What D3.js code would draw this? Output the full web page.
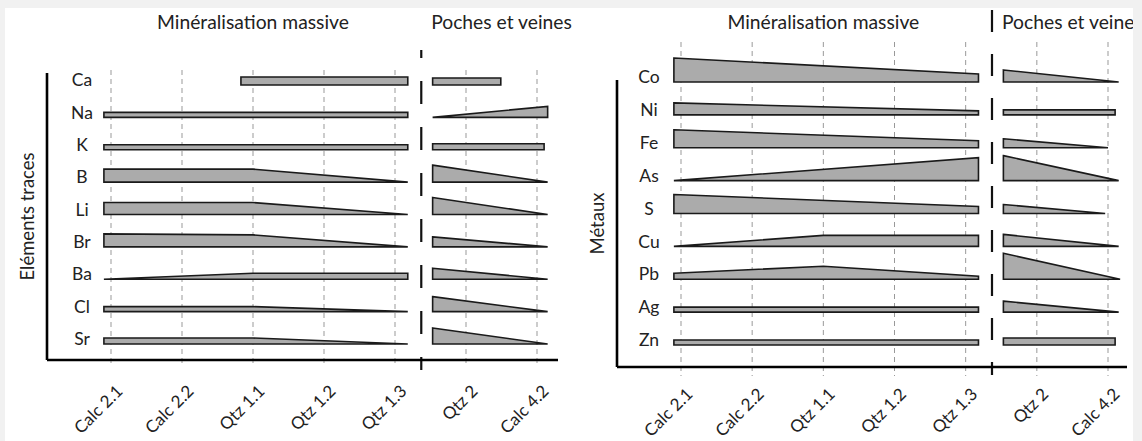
<!DOCTYPE html>
<html>
<head>
<meta charset="utf-8">
<script src="https://cdn.jsdelivr.net/npm/d3@7"></script>
<style>
  body { margin: 0; background: #f1f1f1; }
  svg { display: block; font-family: Lato, "Open Sans", sans-serif; }
</style>
</head>
<body>
<div id="chart"></div>
<script>
// Stages (x axis) and section titles
const stages = ["Calc 2.1", "Calc 2.2", "Qtz 1.1", "Qtz 1.2", "Qtz 1.3", "Qtz 2", "Calc 4.2"];
const sections = ["Minéralisation massive", "Poches et veines"];

// Each shape: [stage position, relative thickness] pairs
const traceElements = ["Ca", "Na", "K", "B", "Li", "Br", "Ba", "Cl", "Sr"];
const traceMassive = [
  [[1.83, 8], [4.18, 8]],
  [[-0.1, 5], [4.18, 5]],
  [[-0.1, 5], [4.18, 5]],
  [[-0.1, 13], [2, 13], [4.18, 0]],
  [[-0.1, 12], [2, 12], [4.18, 0]],
  [[-0.1, 13], [2, 12], [4.18, 0]],
  [[-0.1, 0], [2, 6], [4.18, 6]],
  [[-0.1, 5], [2, 5], [4.18, 0]],
  [[-0.1, 6], [2, 6], [4.18, 0]]
];
const traceVeins = [
  [[4.53, 7], [5.49, 7]],
  [[4.53, 0], [6.15, 11]],
  [[4.53, 6], [6.1, 6]],
  [[4.53, 17], [6.15, 0]],
  [[4.53, 17], [6.15, 0]],
  [[4.53, 10], [6.15, 0]],
  [[4.53, 11], [6.15, 0]],
  [[4.53, 15], [6.15, 0]],
  [[4.53, 16], [6.15, 0]]
];

const metals = ["Co", "Ni", "Fe", "As", "S", "Cu", "Pb", "Ag", "Zn"];
const metalMassive = [
  [[-0.1, 24], [4.18, 8]],
  [[-0.1, 12], [4.18, 4]],
  [[-0.1, 18], [4.18, 7]],
  [[-0.1, 0], [4.18, 23]],
  [[-0.1, 19], [4.18, 7]],
  [[-0.1, 0], [2, 11], [4.18, 11]],
  [[-0.1, 6], [2, 13], [4.18, 3]],
  [[-0.1, 5], [4.18, 5]],
  [[-0.1, 5], [4.18, 5]]
];
const metalVeins = [
  [[4.53, 12], [6.15, 0]],
  [[4.53, 5], [6.1, 5]],
  [[4.53, 9], [6.0, 0]],
  [[4.53, 25], [6.15, 0]],
  [[4.53, 9], [5.96, 0]],
  [[4.53, 12], [6.15, 0]],
  [[4.53, 26], [6.17, 0]],
  [[4.53, 11], [6.15, 0]],
  [[4.53, 7], [6.1, 7]]
];

const width = 1142, height = 441;

const svg = d3.select('#chart').append('svg')
  .attr('width', width)
  .attr('height', height);

// white card, everything clipped to it
svg.append('clipPath').attr('id', 'card')
  .append('rect').attr('x', 5).attr('y', 8).attr('width', 1128).attr('height', 440);
svg.append('rect').attr('x', 5).attr('y', 8).attr('width', 1128).attr('height', 440).attr('fill', '#fff');

const root = svg.append('g').attr('clip-path', 'url(#card)');

// thickness scale (relative units -> px)
const thick = d3.scaleLinear().domain([0, 10]).range([0, 10]);

function panel(opt) {
  const g = root.append('g');

  const x = d3.scaleLinear().domain([0, stages.length - 1]).range(opt.xRange);
  const y = d3.scalePoint().domain(opt.names).range(opt.yRange);

  // dashed stage lines
  g.selectAll('line.grid').data(stages).join('line')
    .attr('class', 'grid')
    .attr('x1', (d, i) => x(i)).attr('x2', (d, i) => x(i))
    .attr('y1', opt.gridTop).attr('y2', opt.gridBottom)
    .attr('stroke', '#999')
    .attr('stroke-width', 1)
    .attr('stroke-dasharray', '5,4');

  // section separator
  const sx = x(4.37);
  g.append('line')
    .attr('x1', sx).attr('x2', sx)
    .attr('y1', opt.axisBottom + opt.sepBelow).attr('y2', opt.sepTop)
    .attr('stroke', '#111')
    .attr('stroke-width', 2.2)
    .attr('stroke-dasharray', opt.sepDash)
    .attr('stroke-dashoffset', opt.sepOffset);

  // axes lines
  g.append('line')
    .attr('x1', opt.axisX).attr('x2', opt.axisX)
    .attr('y1', opt.axisTop).attr('y2', opt.axisBottom)
    .attr('stroke', '#000').attr('stroke-width', 2.6);
  g.append('line')
    .attr('x1', opt.axisX).attr('x2', opt.axisEnd)
    .attr('y1', opt.axisBottom).attr('y2', opt.axisBottom)
    .attr('stroke', '#000').attr('stroke-width', 2.6);

  // shapes
  const area = d3.area()
    .x(d => x(d[0]))
    .y0(0)
    .y1(d => -thick(d[1]));

  const rows = g.selectAll('g.row').data(opt.names).join('g')
    .attr('class', 'row')
    .attr('transform', d => `translate(0,${y(d)})`);

  rows.append('path')
    .attr('d', (d, i) => area(opt.massive[i]));
  rows.append('path')
    .attr('d', (d, i) => area(opt.veins[i]));
  rows.selectAll('path')
    .attr('fill', '#ababab')
    .attr('stroke', '#1a1a1a')
    .attr('stroke-width', 1.6)
    .attr('stroke-linejoin', 'miter');

  rows.append('text')
    .attr('x', opt.labelX)
    .attr('y', -5)
    .attr('dy', '0.35em')
    .attr('text-anchor', 'middle')
    .attr('font-size', 17.5)
    .attr('fill', '#222')
    .text(d => d);

  // section titles
  g.selectAll('text.section').data(sections).join('text')
    .attr('class', 'section')
    .attr('x', (d, i) => i === 0 ? (x(0) + x(4)) / 2 : (x(5) + x(6)) / 2)
    .attr('y', 29)
    .attr('text-anchor', 'middle')
    .attr('font-size', 19.3)
    .attr('fill', '#222')
    .text(d => d);

  // axis title
  g.append('text')
    .attr('transform', `translate(${opt.titleX},${(opt.axisTop + opt.axisBottom) / 2}) rotate(-90)`)
    .attr('text-anchor', 'middle')
    .attr('font-size', 18.5)
    .attr('fill', '#222')
    .text(opt.title);

  // stage labels
  const xaxis = d3.axisBottom(x)
    .tickValues(d3.range(stages.length))
    .tickFormat(i => stages[i])
    .tickSize(0);
  const ga = g.append('g')
    .attr('transform', `translate(8,${opt.axisBottom + opt.labelDrop})`)
    .call(xaxis);
  ga.select('.domain').remove();
  ga.selectAll('text')
    .attr('x', 0).attr('y', 0).attr('dy', '0.35em')
    .attr('transform', 'rotate(-45)')
    .attr('text-anchor', 'end')
    .attr('font-size', 17)
    .attr('font-family', 'Lato, "Open Sans", sans-serif')
    .attr('fill', '#222');
}

panel({
  names: traceElements, massive: traceMassive, veins: traceVeins,
  title: 'Eléments traces',
  xRange: [111, 537], yRange: [85, 344],
  axisX: 47, axisTop: 73, axisBottom: 360, axisEnd: 558,
  gridTop: 70, gridBottom: 366,
  sepTop: 50, sepBelow: 10, sepDash: '23,23', sepOffset: 10,
  labelX: 82, titleX: 34, labelDrop: 28
});

panel({
  names: metals, massive: metalMassive, veins: metalVeins,
  title: 'Métaux',
  xRange: [681, 1108], yRange: [82, 345],
  axisX: 617, axisTop: 80, axisBottom: 367, axisEnd: 1127,
  gridTop: 42, gridBottom: 376,
  sepTop: 10, sepBelow: 8, sepDash: '22,22', sepOffset: 9,
  labelX: 649, titleX: 604, labelDrop: 24
});
</script>
</body>
</html>
